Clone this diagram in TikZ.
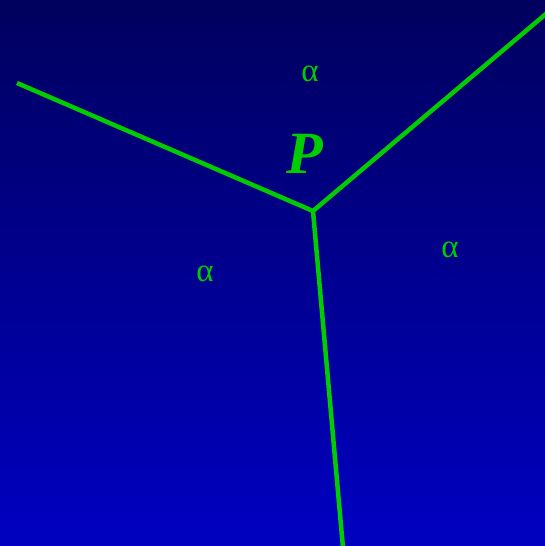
\documentclass[tikz,border=0pt]{standalone}
\usepackage{fontspec}
\setmainfont{Liberation Serif}
\begin{document}
\begin{tikzpicture}[x=1pt,y=-1pt,
  edge/.style={draw=linegreen,line width=4.5pt,line cap=butt},
  alphalabel/.style={text=linegreen,font=\fontsize{33}{33}\selectfont,inner sep=0pt},
  plabel/.style={text=linegreen,font=\fontsize{60}{60}\selectfont\bfseries\itshape,inner sep=0pt}]
\definecolor{linegreen}{RGB}{0,204,0}
\definecolor{topblue}{RGB}{0,0,94}
\definecolor{botblue}{RGB}{0,0,194}
\useasboundingbox (0,0) rectangle (545,546);
\shade[top color=topblue,bottom color=botblue] (0,0) rectangle (545,546);
\coordinate (c) at (313,211);
\coordinate (w) at (17,83);
\coordinate (ne) at (547,13);
\coordinate (s) at (343,548);
\draw[edge] (w) -- (c) -- (ne);
\draw[edge] (c) -- (s);
\node[plabel] (p) at (305,154) {P};
\node[alphalabel] (a1) at (310,74) {α};
\node[alphalabel] (a2) at (205,274) {α};
\node[alphalabel] (a3) at (450,250) {α};
\end{tikzpicture}
\end{document}
